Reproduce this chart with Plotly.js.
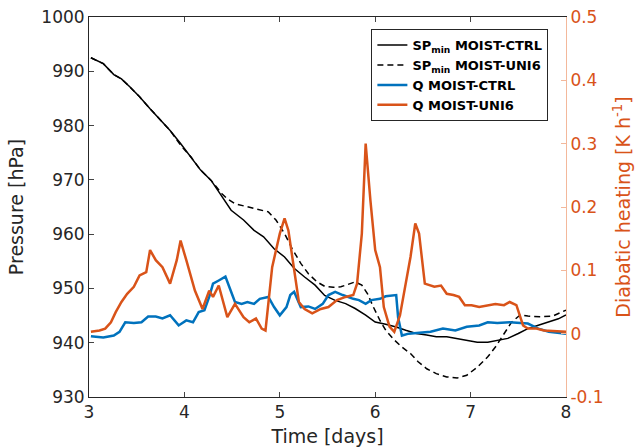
<!DOCTYPE html>
<html>
<head>
<meta charset="utf-8">
<script src="https://cdn.plot.ly/plotly-3.0.1.min.js"></script>
<style>
  html, body { margin: 0; padding: 0; background: #fff; }
  #chart { width: 637px; height: 448px; }
</style>
</head>
<body>
<div id="chart"></div>
<script>
// Minimum surface pressure (hPa), control run
const spCtrlDays = [3.02, 3.15, 3.26, 3.34, 3.43, 3.53, 3.64, 3.75, 3.85, 3.96, 4.07, 4.17, 4.28, 4.39, 4.49, 4.62, 4.73, 4.83, 4.94, 5.05, 5.15, 5.26, 5.37, 5.47, 5.58, 5.69, 5.79, 5.90, 6.00, 6.11, 6.22, 6.32, 6.43, 6.54, 6.64, 6.75, 6.86, 6.96, 7.07, 7.18, 7.28, 7.39, 7.50, 7.60, 7.71, 7.82, 7.92, 8.00];
const spCtrl = [992.5, 991.4, 989.4, 988.6, 987.1, 985.3, 983.1, 981.0, 979.1, 976.7, 974.2, 971.8, 969.9, 966.9, 964.4, 962.6, 960.7, 959.5, 957.3, 955.8, 953.7, 952.1, 950.6, 948.7, 947.8, 947.2, 946.3, 945.1, 943.8, 943.4, 942.9, 942.3, 941.7, 941.4, 941.1, 941.1, 940.8, 940.5, 940.1, 940.1, 940.5, 940.8, 941.7, 942.6, 943.2, 943.8, 944.4, 945.1];

// Minimum surface pressure (hPa), UNI6 run
const spUni6Days = [3.02, 3.15, 3.26, 3.34, 3.43, 3.53, 3.64, 3.75, 3.85, 3.96, 4.07, 4.17, 4.28, 4.39, 4.45, 4.53, 4.66, 4.79, 4.88, 4.96, 5.05, 5.13, 5.22, 5.30, 5.39, 5.47, 5.56, 5.64, 5.73, 5.79, 5.86, 5.92, 5.98, 6.05, 6.11, 6.20, 6.28, 6.37, 6.45, 6.54, 6.64, 6.75, 6.86, 6.96, 7.07, 7.18, 7.26, 7.35, 7.43, 7.52, 7.60, 7.73, 7.86, 8.00];
const spUni6 = [992.5, 991.4, 989.4, 988.6, 987.1, 985.3, 983.1, 981.0, 979.1, 976.4, 974.2, 971.8, 969.9, 967.5, 966.5, 965.6, 965.0, 964.5, 964.1, 962.6, 960.1, 957.3, 954.6, 952.7, 951.2, 950.4, 950.2, 950.3, 950.9, 951.2, 950.6, 949.0, 946.6, 944.1, 942.3, 940.5, 939.2, 938.0, 936.5, 935.2, 934.3, 933.7, 933.5, 934.0, 935.5, 937.4, 939.2, 941.7, 943.8, 945.1, 944.9, 944.8, 944.9, 946.0];

// Diabatic heating (K/h), control run
const qCtrlDays = [3.02, 3.15, 3.26, 3.32, 3.38, 3.47, 3.55, 3.62, 3.70, 3.77, 3.85, 3.94, 4.02, 4.09, 4.15, 4.21, 4.26, 4.30, 4.36, 4.43, 4.47, 4.53, 4.60, 4.66, 4.73, 4.79, 4.88, 4.94, 5.00, 5.07, 5.11, 5.15, 5.22, 5.30, 5.37, 5.45, 5.51, 5.58, 5.66, 5.71, 5.77, 5.83, 5.90, 5.96, 6.05, 6.11, 6.22, 6.24, 6.28, 6.35, 6.45, 6.58, 6.71, 6.84, 6.96, 7.09, 7.18, 7.28, 7.41, 7.52, 7.60, 7.71, 7.82, 8.00];
const qCtrl = [-0.004, -0.006, -0.003, 0.003, 0.018, 0.017, 0.018, 0.027, 0.027, 0.024, 0.029, 0.013, 0.021, 0.018, 0.034, 0.037, 0.058, 0.079, 0.084, 0.090, 0.074, 0.050, 0.047, 0.050, 0.047, 0.055, 0.058, 0.042, 0.029, 0.042, 0.061, 0.066, 0.042, 0.043, 0.039, 0.047, 0.061, 0.066, 0.061, 0.058, 0.055, 0.053, 0.047, 0.053, 0.055, 0.059, 0.061, 0.026, -0.003, 0.000, 0.001, 0.003, 0.008, 0.005, 0.011, 0.013, 0.018, 0.017, 0.018, 0.017, 0.016, 0.008, 0.003, 0.000];

// Diabatic heating (K/h), UNI6 run
const qUni6Days = [3.02, 3.11, 3.17, 3.23, 3.28, 3.34, 3.40, 3.47, 3.53, 3.60, 3.64, 3.70, 3.77, 3.85, 3.92, 3.96, 4.02, 4.11, 4.19, 4.26, 4.30, 4.36, 4.45, 4.53, 4.62, 4.68, 4.75, 4.81, 4.85, 4.92, 5.00, 5.05, 5.09, 5.15, 5.20, 5.26, 5.34, 5.43, 5.51, 5.60, 5.69, 5.77, 5.81, 5.86, 5.90, 5.95, 6.00, 6.05, 6.09, 6.15, 6.20, 6.26, 6.32, 6.37, 6.42, 6.46, 6.52, 6.58, 6.62, 6.69, 6.75, 6.82, 6.88, 6.94, 7.01, 7.09, 7.18, 7.26, 7.35, 7.41, 7.48, 7.55, 7.60, 7.69, 7.77, 7.86, 8.00];
const qUni6 = [0.003, 0.005, 0.008, 0.018, 0.034, 0.050, 0.063, 0.074, 0.092, 0.097, 0.132, 0.116, 0.105, 0.079, 0.116, 0.147, 0.116, 0.068, 0.039, 0.068, 0.058, 0.076, 0.026, 0.047, 0.026, 0.018, 0.024, 0.008, 0.005, 0.105, 0.158, 0.182, 0.163, 0.105, 0.050, 0.039, 0.032, 0.039, 0.042, 0.053, 0.058, 0.061, 0.079, 0.158, 0.300, 0.210, 0.132, 0.105, 0.042, 0.011, 0.003, 0.029, 0.079, 0.121, 0.174, 0.158, 0.079, 0.076, 0.074, 0.076, 0.063, 0.061, 0.058, 0.045, 0.045, 0.042, 0.045, 0.047, 0.045, 0.050, 0.045, 0.013, 0.008, 0.008, 0.005, 0.004, 0.003];

// Axis ticks
const pressureTicks = [930, 940, 950, 960, 970, 980, 990, 1000];
const heatingTicks = [-0.1, 0, 0.1, 0.2, 0.3, 0.4, 0.5];
const heatingTickText = ['-0.1', '0', '0.1', '0.2', '0.3', '0.4', '0.5'];
const dayTicks = [3, 4, 5, 6, 7, 8];

const BLUE = '#0072BD';
const ORANGE = '#D95319';
const AXIS = '#262626';
const FONT = 'DejaVu Sans, sans-serif';

const traces = [
  { x: spCtrlDays, y: spCtrl, type: 'scatter', mode: 'lines', yaxis: 'y',
    name: '<b>SP<sub>min</sub> MOIST-CTRL</b>',
    line: { color: '#000', width: 1.5 } },
  { x: spUni6Days, y: spUni6, type: 'scatter', mode: 'lines', yaxis: 'y',
    name: '<b>SP<sub>min</sub> MOIST-UNI6</b>',
    line: { color: '#000', width: 1.5, dash: '6px,4px' } },
  { x: qCtrlDays, y: qCtrl, type: 'scatter', mode: 'lines', yaxis: 'y2',
    name: '<b>Q MOIST-CTRL</b>',
    line: { color: BLUE, width: 2.5 } },
  { x: qUni6Days, y: qUni6, type: 'scatter', mode: 'lines', yaxis: 'y2',
    name: '<b>Q MOIST-UNI6</b>',
    line: { color: ORANGE, width: 2.5 } }
];

const layout = {
  width: 637, height: 448,
  margin: { l: 89, r: 71, t: 17, b: 51, pad: 0 },
  paper_bgcolor: '#fff', plot_bgcolor: '#fff',
  font: { family: FONT, size: 17, color: AXIS },
  showlegend: true,
  legend: {
    x: 0.592, y: 0.968, xanchor: 'left', yanchor: 'top',
    bgcolor: '#fff', bordercolor: AXIS, borderwidth: 1,
    font: { family: FONT, size: 13, color: '#000' },
    itemwidth: 30, tracegroupgap: 0
  },
  xaxis: {
    range: [3, 8], tickvals: dayTicks, ticks: 'inside', ticklen: 5,
    showline: true, linecolor: AXIS, linewidth: 1, mirror: 'ticks',
    showgrid: false, zeroline: false,
    tickfont: { size: 17, color: AXIS },
    title: { text: 'Time [days]', font: { size: 19, color: AXIS }, standoff: 8 }
  },
  yaxis: {
    range: [930, 1000], tickvals: pressureTicks, ticks: 'inside', ticklen: 5,
    showline: true, linecolor: AXIS, linewidth: 1,
    showgrid: false, zeroline: false,
    tickfont: { size: 17, color: AXIS },
    title: { text: 'Pressure [hPa]', font: { size: 19, color: AXIS }, standoff: 12 }
  },
  yaxis2: {
    overlaying: 'y', side: 'right', range: [-0.1, 0.5],
    tickvals: heatingTicks, ticktext: heatingTickText,
    ticks: 'inside', ticklen: 5, tickcolor: '#f3b89b',
    showline: true, linecolor: '#f3b89b', linewidth: 1,
    showgrid: false, zeroline: false,
    tickfont: { size: 17, color: ORANGE },
    title: { text: 'Diabatic heating [K h<sup>-1</sup>]', font: { size: 19, color: ORANGE }, standoff: 14 }
  }
};

Plotly.newPlot('chart', traces, layout, { displayModeBar: false, staticPlot: true });
</script>
</body>
</html>
